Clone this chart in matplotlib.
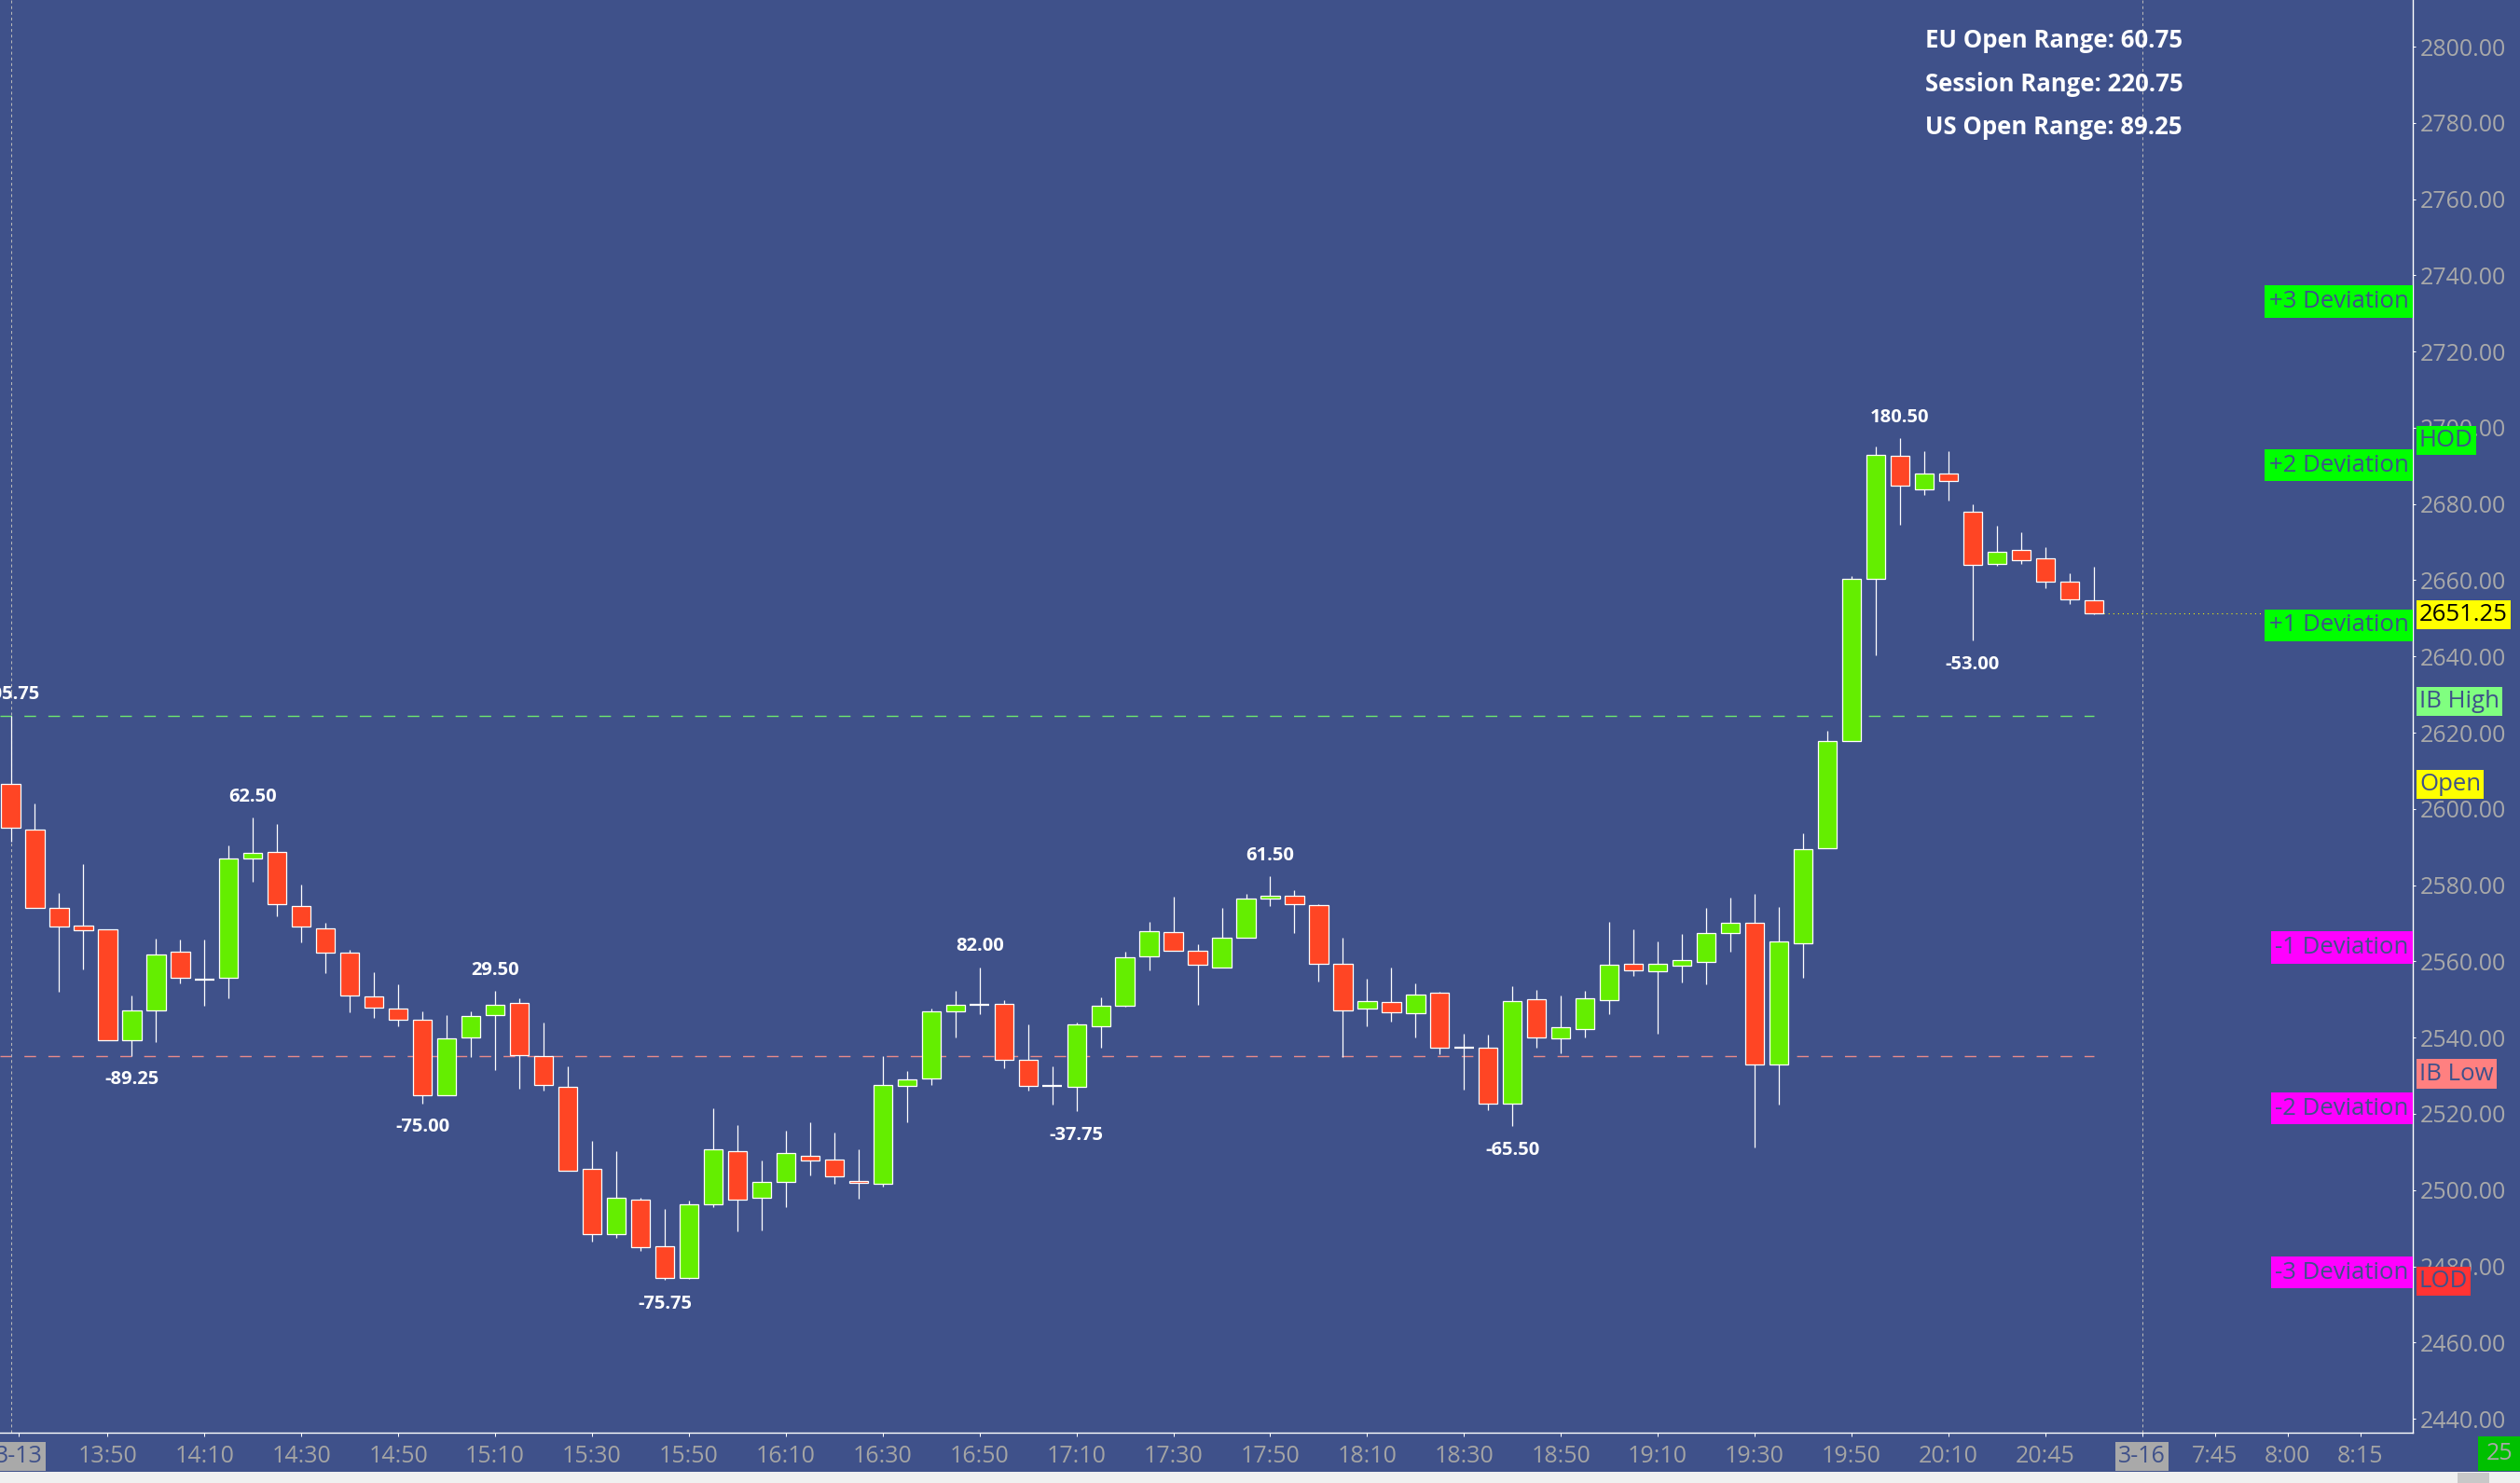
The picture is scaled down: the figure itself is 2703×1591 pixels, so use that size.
import matplotlib
matplotlib.use("Agg")
import matplotlib.pyplot as plt
from matplotlib.patches import Rectangle
from matplotlib.ticker import FormatStrFormatter
import numpy as np

plt.rcParams["lines.scale_dashes"] = False

# 5-minute bars of the 3-13 session (index 0 = 13:30)
opens = [2606.5, 2594.5, 2574.0, 2569.5, 2568.5, 2539.25, 2547.25, 2562.5, 2555.25, 2555.75,
         2587.0, 2588.75, 2574.5, 2568.75, 2562.25, 2550.75, 2547.5, 2544.75, 2525.0, 2540.0,
         2546.0, 2549.0, 2535.25, 2527.0, 2505.5, 2488.5, 2497.5, 2485.25, 2477.0, 2496.25,
         2510.25, 2498.0, 2502.25, 2509.0, 2508.0, 2502.5, 2501.75, 2527.25, 2529.25, 2547.0,
         2548.5, 2548.75, 2534.25, 2527.25, 2527.0, 2543.0, 2548.25, 2561.25, 2567.75, 2562.75,
         2558.5, 2566.25, 2576.5, 2577.25, 2574.75, 2559.25, 2547.5, 2549.25, 2546.5, 2551.75,
         2537.25, 2537.25, 2522.75, 2550.0, 2539.75, 2542.25, 2549.75, 2559.25, 2557.5, 2558.75,
         2559.75, 2567.5, 2570.0, 2533.0, 2564.75, 2589.75, 2617.75, 2660.25, 2692.75, 2683.75,
         2688.0, 2678.0, 2664.25, 2668.0, 2665.75, 2659.75, 2654.75]
highs = [2624.5, 2601.5, 2578.0, 2585.5, 2568.5, 2551.0, 2566.0, 2565.75, 2565.75, 2590.5,
         2597.75, 2596.0, 2580.25, 2570.0, 2563.0, 2557.25, 2554.0, 2547.0, 2546.0, 2547.0,
         2552.25, 2550.25, 2544.0, 2532.5, 2513.0, 2510.25, 2498.0, 2495.0, 2497.25, 2521.5,
         2517.0, 2507.75, 2515.5, 2517.75, 2515.0, 2510.75, 2535.25, 2531.25, 2547.5, 2552.25,
         2558.5, 2549.75, 2543.5, 2532.5, 2544.0, 2550.5, 2562.5, 2570.25, 2577.0, 2564.5,
         2574.0, 2577.75, 2582.25, 2578.75, 2575.0, 2566.25, 2555.5, 2558.5, 2554.25, 2552.0,
         2541.0, 2540.75, 2553.5, 2552.5, 2551.0, 2552.25, 2570.25, 2568.5, 2565.25, 2567.25,
         2574.0, 2576.75, 2577.75, 2574.25, 2593.5, 2620.5, 2661.0, 2695.0, 2697.25, 2693.75,
         2693.75, 2680.0, 2674.25, 2672.5, 2668.75, 2661.75, 2663.5]
lows = [2591.5, 2574.0, 2552.0, 2558.0, 2539.25, 2535.25, 2538.75, 2554.25, 2548.25, 2550.25,
        2581.0, 2571.75, 2565.0, 2557.0, 2546.75, 2545.25, 2543.0, 2522.75, 2525.0, 2535.0,
        2531.5, 2526.5, 2526.0, 2505.0, 2486.5, 2487.5, 2484.0, 2476.5, 2476.75, 2495.5,
        2489.25, 2489.5, 2495.5, 2503.75, 2501.75, 2497.75, 2501.0, 2517.75, 2527.5, 2540.0,
        2546.25, 2532.0, 2526.0, 2522.5, 2520.75, 2537.25, 2548.0, 2557.75, 2562.75, 2548.5,
        2558.5, 2566.25, 2574.5, 2567.5, 2554.75, 2535.0, 2543.0, 2544.25, 2540.0, 2535.75,
        2526.25, 2521.0, 2516.75, 2537.25, 2536.0, 2540.0, 2546.25, 2556.25, 2541.0, 2554.5,
        2554.0, 2562.5, 2511.25, 2522.5, 2555.75, 2589.75, 2617.75, 2640.25, 2674.5, 2682.25,
        2681.0, 2644.25, 2663.75, 2664.25, 2658.0, 2653.75, 2651.0]
closes = [2595.0, 2574.0, 2569.25, 2568.25, 2539.25, 2547.25, 2561.75, 2555.75, 2555.25, 2587.0,
          2588.5, 2575.0, 2569.25, 2562.25, 2551.0, 2547.75, 2544.75, 2525.0, 2539.75, 2545.75,
          2548.5, 2535.5, 2527.5, 2505.0, 2488.5, 2498.0, 2485.0, 2477.0, 2496.25, 2510.75,
          2497.5, 2502.25, 2509.75, 2507.75, 2503.5, 2502.0, 2527.5, 2529.0, 2547.0, 2548.5,
          2548.5, 2534.25, 2527.25, 2527.25, 2543.5, 2548.25, 2561.0, 2568.0, 2562.75, 2559.0,
          2566.25, 2576.5, 2577.25, 2575.0, 2559.25, 2547.25, 2549.5, 2546.75, 2551.25, 2537.25,
          2537.25, 2522.75, 2549.5, 2540.0, 2542.75, 2550.25, 2559.0, 2557.75, 2559.25, 2560.25,
          2567.5, 2570.0, 2533.0, 2565.25, 2589.5, 2617.75, 2660.25, 2693.0, 2684.75, 2688.0,
          2686.0, 2664.0, 2667.5, 2665.25, 2659.75, 2655.0, 2651.25]

swing_idx = [0, 5, 10, 17, 20, 27, 40, 44, 52, 62, 78, 81]
swing_text = ["105.75", "-89.25", "62.50", "-75.00", "29.50", "-75.75",
              "82.00", "-37.75", "61.50", "-65.50", "180.50", "-53.00"]

ib_high = 2624.5
ib_low = 2535.25
last_price = 2651.25
session_breaks = [0, 88]

dev_labels = ["+3 Deviation", "+2 Deviation", "+1 Deviation",
              "-1 Deviation", "-2 Deviation", "-3 Deviation"]
dev_levels = [2733.75, 2690.75, 2648.75, 2564.25, 2522.0, 2479.0]
dev_colors = ["#00ff00", "#00ff00", "#00ff00", "#ff00ff", "#ff00ff", "#ff00ff"]

level_labels = ["HOD", "IB High", "Open", "IB Low", "LOD"]
level_values = [2697.25, 2628.75, 2607.0, 2531.0, 2476.5]
level_colors = ["#00ff00", "#80ff80", "#ffff00", "#ff8080", "#ff3333"]

tick_pos = [0.33, 4, 8, 12, 16, 20, 24, 28, 32, 36, 40, 44, 48, 52, 56, 60, 64, 68,
            72, 76, 80, 84, 88, 91, 94, 97]
tick_text = ["3-13", "13:50", "14:10", "14:30", "14:50", "15:10", "15:30", "15:50",
             "16:10", "16:30", "16:50", "17:10", "17:30", "17:50", "18:10", "18:30",
             "18:50", "19:10", "19:30", "19:50", "20:10", "20:45", "3-16", "7:45",
             "8:00", "8:15"]

range_lines = ["EU Open Range: 60.75", "Session Range: 220.75", "US Open Range: 89.25"]

BG = "#3f518a"
UP = "#64ee00"
DOWN = "#ff4524"
W, H = 2703, 1591

fig = plt.figure(figsize=(W / 100, H / 100), dpi=100, facecolor=BG)
ax = fig.add_axes([0, 54 / H, 2588 / W, 1537 / H], facecolor=BG)

o = np.array(opens)
c = np.array(closes)
x = np.arange(len(o))

ax.vlines(x, lows, highs, color="white", lw=0.9, zorder=2)
up = c > o
dn = c < o
eq = c == o
ax.bar(x[up], (c - o)[up], bottom=o[up], width=0.78, color=UP, edgecolor="white", lw=0.9, zorder=3)
ax.bar(x[dn], (o - c)[dn], bottom=c[dn], width=0.78, color=DOWN, edgecolor="white", lw=0.9, zorder=3)
ax.hlines(c[eq], x[eq] - 0.4, x[eq] + 0.4, color="white", lw=1.6, zorder=3)

# IB range lines
ax.plot([-0.45, x[-1]], [ib_high, ib_high], color="#6ee86e", lw=1.0, dashes=(9, 9.5), zorder=1)
ax.plot([-0.45, x[-1]], [ib_low, ib_low], color="#e88a8a", lw=1.0, dashes=(9, 9.5), zorder=1)

for b in session_breaks:
    ax.axvline(b, color="#b8b8b8", lw=0.75, dashes=(2.2, 2.2), zorder=1)

xmax = 99.17
ax.plot([x[-1], xmax], [last_price, last_price], color="#ffff00", lw=0.75, dashes=(0.75, 2.9), zorder=1)

# swing labels
for i, t in zip(swing_idx, swing_text):
    if t.startswith("-"):
        ax.annotate(t, (i, lows[i]), xytext=(0, -18.5), textcoords="offset points",
                    ha="center", va="center", color="white", fontsize=14.5,
                    fontweight="bold", family="Open Sans", annotation_clip=False)
    else:
        ax.annotate(t, (i, highs[i]), xytext=(0, 16), textcoords="offset points",
                    ha="center", va="center", color="white", fontsize=14.5,
                    fontweight="bold", family="Open Sans", annotation_clip=False)

ax.set_xlim(-0.443, xmax)
ax.set_ylim(2436.35, 2812.23)

ax.yaxis.tick_right()
ax.set_yticks(np.arange(2440, 2801, 20))
ax.yaxis.set_major_formatter(FormatStrFormatter("%.2f"))
ax.tick_params(axis="y", direction="out", length=2.5, width=0.75, color="white",
               labelcolor="#a9a9a9", labelsize=18, pad=3)
for lab in ax.get_yticklabels():
    lab.set_family("Open Sans")

ax.set_xticks(tick_pos)
ax.set_xticklabels(tick_text)
ax.tick_params(axis="x", direction="out", length=3, width=0.75, color="white",
               labelcolor="#a4a4a4", labelsize=18, pad=6.5)
for lab in ax.get_xticklabels():
    lab.set_family("Open Sans")
    if "-" in lab.get_text():
        lab.set_color(BG)
        lab.set_bbox(dict(facecolor="#a9a9a9", edgecolor="none", boxstyle="square,pad=0.12"))

for side in ["top", "left"]:
    ax.spines[side].set_visible(False)
for side in ["right", "bottom"]:
    ax.spines[side].set_color("white")
    ax.spines[side].set_linewidth(1.0)

# deviation boxes against the price axis
for lab, lvl, col in zip(dev_labels, dev_levels, dev_colors):
    ax.annotate(lab, (1.0, lvl), xycoords=("axes fraction", "data"), xytext=(-3.2, -1.8),
                textcoords="offset points", ha="right", va="center", fontsize=18.5,
                family="Open Sans", color=BG, zorder=6, annotation_clip=False,
                bbox=dict(facecolor=col, edgecolor="none", boxstyle="square,pad=0.18"))

# level tags on the price scale
for lab, lvl, col in zip(level_labels, level_values, level_colors):
    ax.annotate(lab, (1.0, lvl), xycoords=("axes fraction", "data"), xytext=(5.0, -1.5),
                textcoords="offset points", ha="left", va="center", fontsize=18.5,
                family="Open Sans", color=BG, zorder=6, annotation_clip=False,
                bbox=dict(facecolor=col, edgecolor="none", boxstyle="square,pad=0.12"))

ax.annotate(f"{last_price:.2f}", (1.0, last_price), xycoords=("axes fraction", "data"),
            xytext=(5.0, -1.0), textcoords="offset points", ha="left", va="center", fontsize=18.5,
            family="Open Sans", color="black", zorder=6, annotation_clip=False,
            bbox=dict(facecolor="#ffff00", edgecolor="none", boxstyle="square,pad=0.12"))

for k, line in enumerate(range_lines):
    fig.text(2065 / W, 1 - (43.5 + 46.5 * k) / H, line, ha="left", va="center", color="white",
             fontsize=18.5, fontweight="bold", family="Open Sans")

# bottom strip: scrollbar and bar-count box
fig.patches.append(Rectangle((0, 0), 1, 12 / H, transform=fig.transFigure,
                             facecolor="#f0f0f0", edgecolor="none"))
fig.patches.append(Rectangle((2636 / W, 0), 34 / W, 11 / H, transform=fig.transFigure,
                             facecolor="#c8c8c8", edgecolor="none"))
fig.patches.append(Rectangle((2658 / W, 13 / H), 45 / W, 37 / H, transform=fig.transFigure,
                             facecolor="#00c000", edgecolor="none"))
fig.text(2681 / W, 1 - 1560 / H, "25", ha="center", va="center", color="#a8a8a8",
         fontsize=18, family="Open Sans")

fig.savefig("out.png", dpi=100, facecolor=BG)
